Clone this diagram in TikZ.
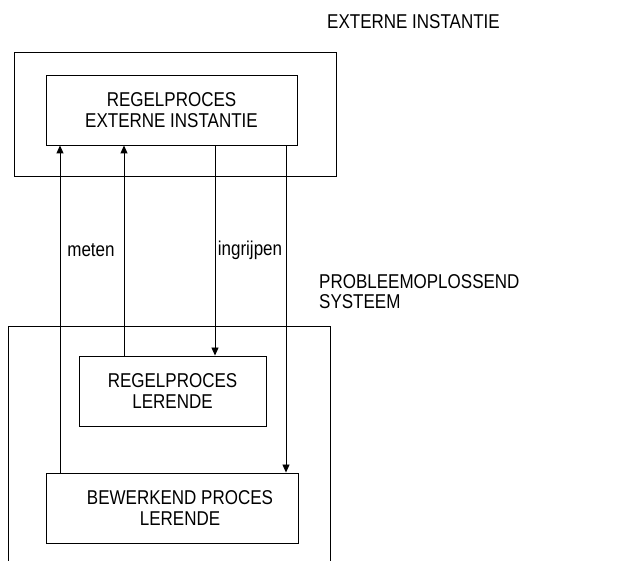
\documentclass[tikz,border=0pt]{standalone}
\usepackage{fontspec}
\setmainfont{Liberation Sans}[FakeStretch=0.85]
\usetikzlibrary{arrows.meta}
\begin{document}
\begin{tikzpicture}[x=1pt,y=-1pt,
  every node/.style={font=\fontsize{20}{20.5}\selectfont},
  box/.style={draw,line width=0.9pt,inner sep=0pt,align=center,anchor=center},
  lbl/.style={inner sep=0pt,anchor=center},
  conn/.style={line width=0.9pt},
  arr/.style={line width=0.9pt,-{Triangle[length=8pt,width=7pt]}}]
\useasboundingbox (0,0) rectangle (630,561);
% outer boxes
\node[box,minimum width=322pt,minimum height=124pt] (extouter) at (175,114) {};
\draw[conn] (8,561) -- (8,326) coordinate (pstl) -- (330,326) coordinate (pstr) -- (330,561);
% inner boxes
\node[box,minimum width=251pt,minimum height=70pt] (regext) at (171.5,110) {REGELPROCES\\EXTERNE INSTANTIE};
\node[box,minimum width=187pt,minimum height=70pt] (regler) at (172.5,391) {REGELPROCES\\LERENDE};
\node[box,minimum width=252pt,minimum height=70pt] (bew) at (172,508) {\hspace*{16pt}BEWERKEND PROCES\\\hspace*{16pt}LERENDE};
% titles
\node[lbl,anchor=west] (tExt) at (327,22) {EXTERNE INSTANTIE};
\node[lbl,anchor=north west,align=left] (tPos) at (319,274) {PROBLEEMOPLOSSEND\\SYSTEEM};
% connectors
\draw[arr] (bew.north -| 60,0) -- (regext.south -| 60,0);
\draw[arr] (regler.north -| 124,0) -- (regext.south -| 124,0);
\draw[arr] (regext.south -| 215,0) -- (regler.north -| 215,0);
\draw[arr] (regext.south -| 286,0) -- (bew.north -| 286,0);
% connector labels
\node[lbl] (lmeten) at (91,250) {meten};
\node[lbl] (lingr) at (250,250) {ingrijpen};
\end{tikzpicture}
\end{document}
